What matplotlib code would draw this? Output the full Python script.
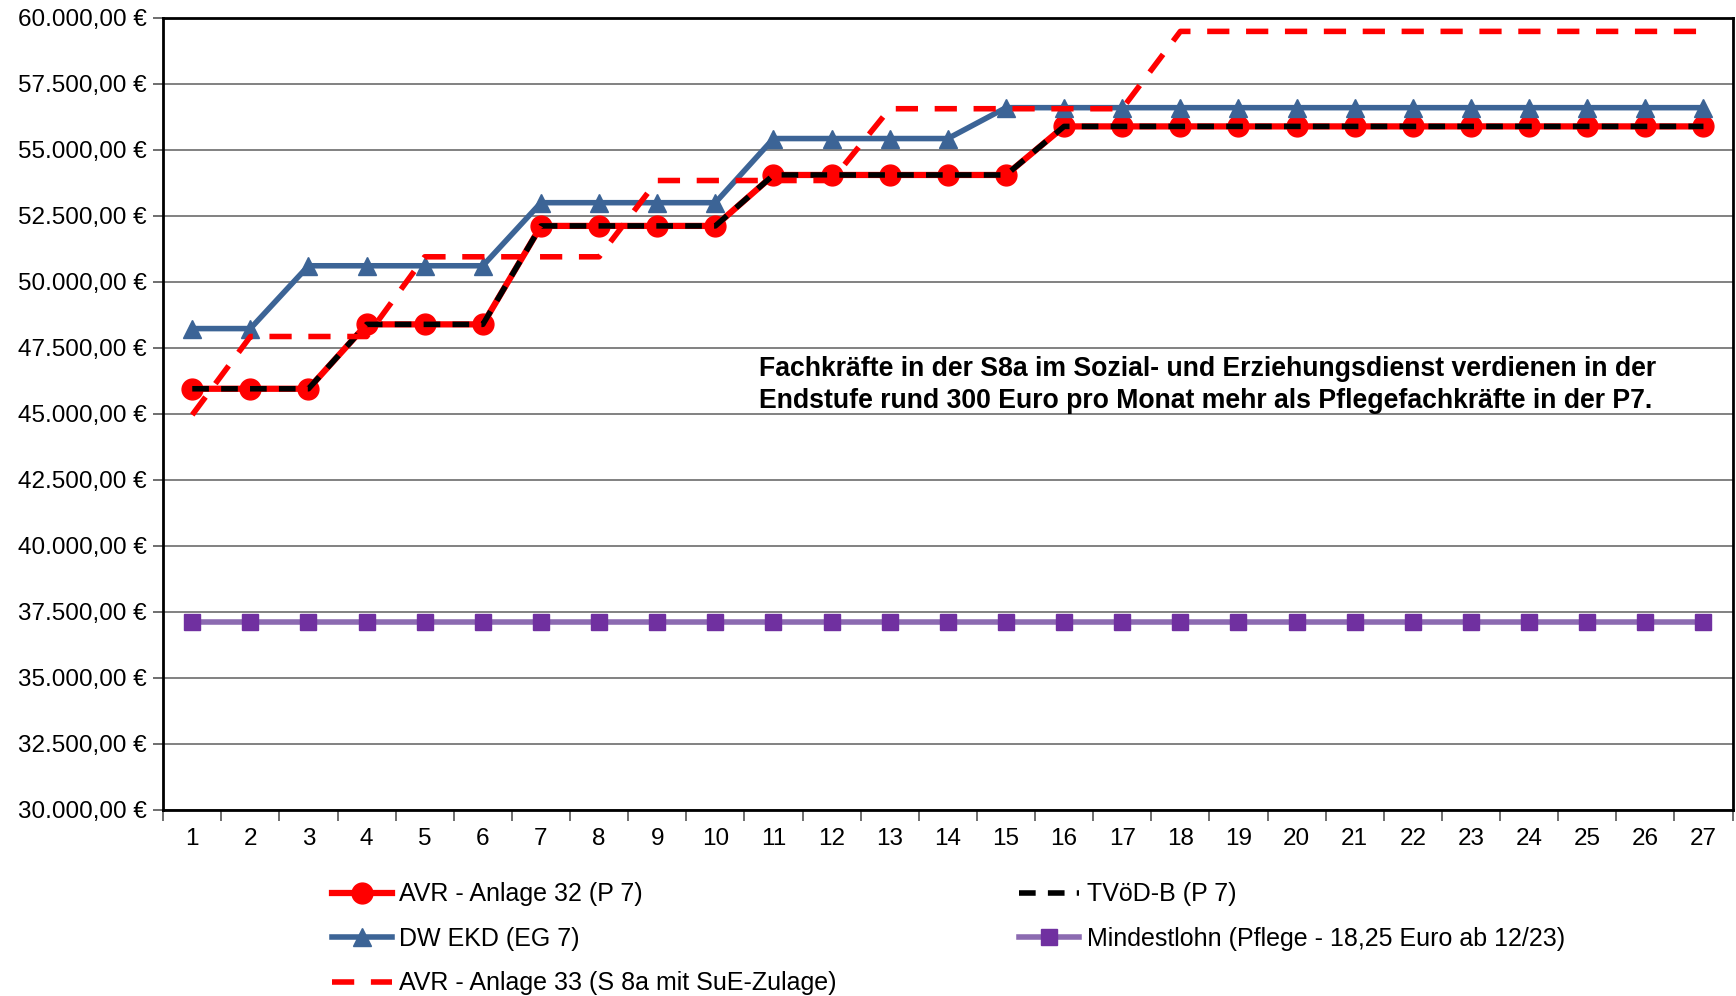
import matplotlib
matplotlib.use("Agg")
import matplotlib.pyplot as plt
from matplotlib.ticker import FixedLocator, FuncFormatter, NullFormatter

plt.rcParams['font.family'] = ['Liberation Sans', 'DejaVu Sans']

stufen = list(range(1, 28))
avr32 = [45950]*3 + [48390]*3 + [52120]*4 + [54050]*5 + [55890]*12
tvoed = [45950]*3 + [48390]*3 + [52120]*4 + [54050]*5 + [55890]*12
dwekd = [48230]*2 + [50610]*4 + [53000]*4 + [55430]*4 + [56600]*13
avr33 = [44960] + [47930]*3 + [50950]*4 + [53840]*4 + [56560]*5 + [59490]*10
mindest = [37130]*27
yticks = list(range(30000, 60001, 2500))

labels = {
    'avr32': 'AVR - Anlage 32 (P 7)',
    'tvoed': 'TVöD-B (P 7)',
    'dwekd': 'DW EKD (EG 7)',
    'mindest': 'Mindestlohn (Pflege - 18,25 Euro ab 12/23)',
    'avr33': 'AVR - Anlage 33 (S 8a mit SuE-Zulage)',
}
note = ("Fachkräfte in der S8a im Sozial- und Erziehungsdienst verdienen in der\n"
        "Endstufe rund 300 Euro pro Monat mehr als Pflegefachkräfte in der P7.")

fig = plt.figure(figsize=(17.36, 9.96), dpi=100)
ax = fig.add_axes([0.094, 0.187, 0.904, 0.795])

l1, = ax.plot(stufen, avr32, color='#FF0000', lw=4.5, marker='o', ms=15, zorder=3, label=labels['avr32'])
l2, = ax.plot(stufen, tvoed, color='black', lw=4, ls=(0, (3, 2.2)), zorder=4, label=labels['tvoed'])
l3, = ax.plot(stufen, dwekd, color='#3C6496', lw=4, marker='^', ms=13, zorder=3, label=labels['dwekd'])
l4, = ax.plot(stufen, mindest, color='#8C6BB1', lw=4, marker='s', ms=12, mfc='#7030A0', mec='#7030A0',
              zorder=3, label=labels['mindest'])
l5, = ax.plot(stufen, avr33, color='#FF0000', lw=4, ls=(0, (4, 3)), zorder=5, label=labels['avr33'])

ax.set_xlim(0.5, 27.5)
ax.set_ylim(30000, 60000)
ax.yaxis.set_major_locator(FixedLocator(yticks))
ax.yaxis.set_major_formatter(FuncFormatter(lambda v, p: f"{int(v):,}".replace(",", ".") + ",00 €"))
ax.grid(axis='y', color='#777777', lw=1.3)
ax.set_axisbelow(True)

ax.set_xticks(stufen)
ax.set_xticklabels([str(s) for s in stufen])
ax.tick_params(axis='x', which='major', length=0, pad=13, labelsize=17.5)
ax.set_xticks([s + 0.5 for s in range(0, 28)], minor=True)
ax.xaxis.set_minor_formatter(NullFormatter())
ax.tick_params(axis='x', which='minor', length=8, width=1.2, color='#555555')
ax.tick_params(axis='y', length=7, width=1.2, labelsize=17.5, pad=5, color='#555555')
for s in ax.spines.values():
    s.set_color('black')
    s.set_linewidth(2)

ax.text(0.3796, 0.536, note, transform=ax.transAxes, fontsize=19.2, fontweight='bold',
        ha='left', va='center', linespacing=1.3)

fig.legend(handles=[l1, l3, l5, l2, l4], ncol=2, loc='upper left', bbox_to_anchor=(0.191, 0.114),
           frameon=False, fontsize=18, handlelength=2.4, columnspacing=7.3, labelspacing=0.82,
           handletextpad=0.3, borderaxespad=0, borderpad=0)

fig.savefig('out.png', dpi=100)
